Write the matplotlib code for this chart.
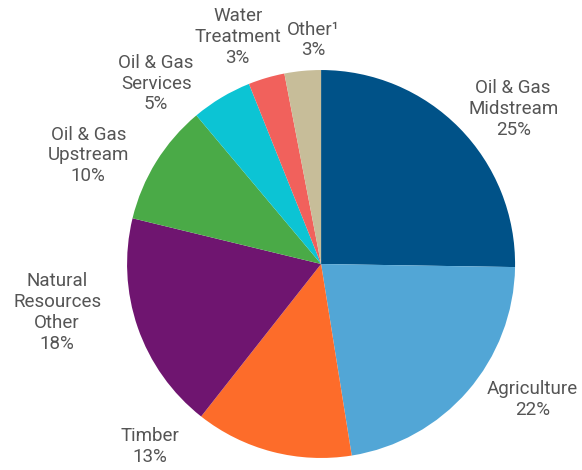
import matplotlib.pyplot as plt

plt.rcParams['font.family'] = ['Roboto', 'DejaVu Sans']

# portfolio split by sector (percent)
categories = ['Oil & Gas\nMidstream', 'Agriculture', 'Timber', 'Natural\nResources\nOther',
              'Oil & Gas\nUpstream', 'Oil & Gas\nServices', 'Water\nTreatment', 'Other¹']
shares = [25, 22, 13, 18, 10, 5, 3, 3]
colors = ['#005288', '#52a6d6', '#fd6c2a', '#6f1570', '#4aaa47', '#0cc4d4', '#f1615c', '#c7bd99']

# where each label sits, in units of the pie radius
label_pos = [(0.99, 0.80), (1.09, -0.70), (-0.88, -0.94), (-1.36, -0.25),
             (-1.20, 0.56), (-0.85, 0.93), (-0.43, 1.17), (-0.04, 1.155)]

fig = plt.figure(figsize=(5.82, 4.70), dpi=100)
ax = fig.add_axes([0, 0, 1, 1])

ax.pie(shares, colors=colors, startangle=90, counterclock=False, radius=1,
       wedgeprops=dict(linewidth=0))

for name, val, (x, y) in zip(categories, shares, label_pos):
    ax.text(x, y, f'{name}\n{val}%', ha='center', va='center', fontsize=13.5,
            color='#555555', linespacing=1.2)

ax.set_xlim(-1.655, 1.345)
ax.set_ylim(-1.062, 1.361)
ax.set_aspect('auto')
ax.axis('off')

fig.savefig('out.png', dpi=100)
